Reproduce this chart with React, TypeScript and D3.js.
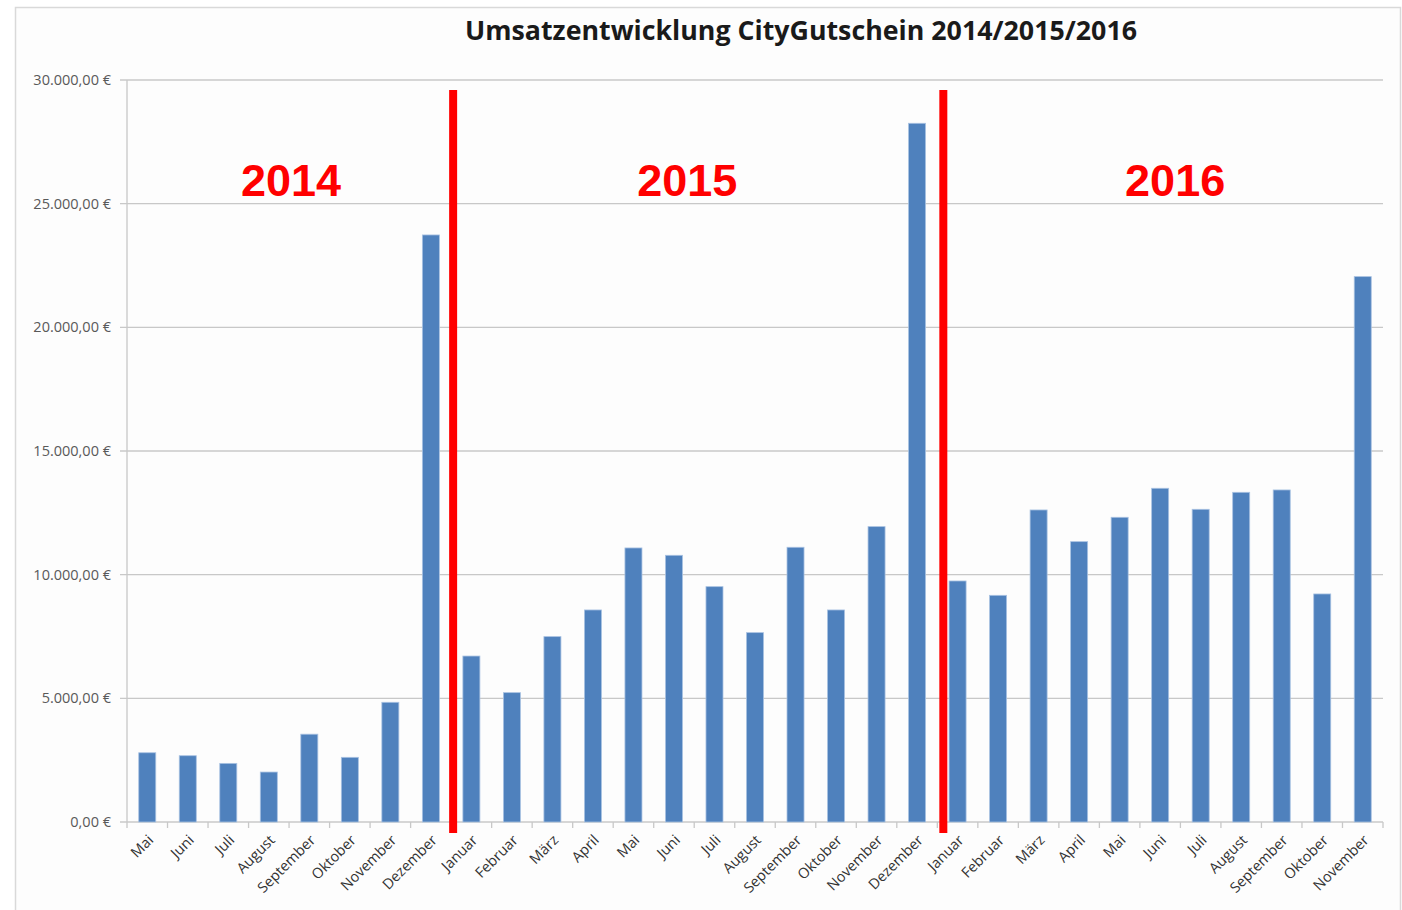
import * as d3 from "d3";

const months = [
  "Mai", "Juni", "Juli", "August", "September", "Oktober", "November", "Dezember",
  "Januar", "Februar", "März", "April", "Mai", "Juni", "Juli", "August", "September", "Oktober", "November", "Dezember",
  "Januar", "Februar", "März", "April", "Mai", "Juni", "Juli", "August", "September", "Oktober", "November",
];
const revenue = [
  2800, 2680, 2370, 2020, 3550, 2615, 4840, 23735,
  6710, 5230, 7495, 8573, 11080, 10783, 9515, 7656, 11108, 8573, 11942, 28250,
  9745, 9165, 12616, 11335, 12320, 13493, 12643, 13330, 13425, 9220, 22050,
];
const yTicks = [0, 5000, 10000, 15000, 20000, 25000, 30000];
const years = ["2014", "2015", "2016"];
const yearStart = [0, 8, 20];
const yearEnd = [8, 20, 31];
const dividers = [8, 20];

const W = 1402;
const H = 910;
const left = 127;
const right = 1383;
const top = 80;
const bottom = 822;

const fmt = (v: number) =>
  v.toLocaleString("de-DE", { minimumFractionDigits: 2, maximumFractionDigits: 2 }) + " €";

export default function App() {
  const keys = months.map((_, i) => String(i));
  const x = d3.scaleBand<string>().domain(keys).range([left, right]).paddingInner(0.58).paddingOuter(0.29);
  const step = x.step();
  const y = d3.scaleLinear().domain([0, 30000]).range([bottom, top]);
  const edge = (i: number) => left + i * step;
  const yearShift = [2, -7, 15];
  const divShift = [2, 6];

  return (
    <div style={{ position: "absolute", left: 0, top: 0 }}>
      <svg width={W} height={H} style={{ display: "block", background: "#fff" }}>
        <rect x={15.5} y={7.5} width={1385} height={920} fill="#fdfdfd" stroke="#d9d9d9" strokeWidth={1.5} />
        <text
          x={801}
          y={40}
          textAnchor="middle"
          fontFamily="'Open Sans', sans-serif"
          fontWeight={700}
          fontSize={26}
          textLength={672}
          lengthAdjust="spacingAndGlyphs"
          fill="#1a1a1a"
        >
          Umsatzentwicklung CityGutschein 2014/2015/2016
        </text>

        {yTicks.map((t) => (
          <g key={t}>
            <line x1={left - 7} x2={right} y1={y(t)} y2={y(t)} stroke="#c8c8c8" strokeWidth={1.3} />
            <text
              x={111}
              y={y(t) + 5}
              textAnchor="end"
              fontFamily="'Open Sans', sans-serif"
              fontSize={14.5}
              fill="#595959"
            >
              {fmt(t)}
            </text>
          </g>
        ))}
        <line x1={left} x2={left} y1={top} y2={bottom} stroke="#c8c8c8" strokeWidth={1.3} />
        {d3.range(months.length + 1).map((i) => (
          <line key={i} x1={edge(i)} x2={edge(i)} y1={bottom} y2={bottom + 6} stroke="#c8c8c8" strokeWidth={1.3} />
        ))}

        {revenue.map((v, i) => (
          <rect
            key={i}
            x={x(String(i))}
            y={y(v)}
            width={x.bandwidth()}
            height={y(0) - y(v)}
            fill="#4f81bd"
            stroke="#a9c2e2"
            strokeWidth={0.8}
          />
        ))}

        {months.map((m, i) => {
          const cx = (x(String(i)) ?? 0) + x.bandwidth() / 2 + 7;
          const cy = bottom + 19;
          return (
            <text
              key={i}
              transform={`translate(${cx},${cy}) rotate(-45)`}
              textAnchor="end"
              fontFamily="'Open Sans', sans-serif"
              fontSize={14.5}
              fill="#333333"
            >
              {m}
            </text>
          );
        })}

        {dividers.map((i, k) => (
          <line
            key={i}
            x1={edge(i) + divShift[k]}
            x2={edge(i) + divShift[k]}
            y1={90}
            y2={833}
            stroke="#ff0000"
            strokeWidth={8}
          />
        ))}

        {years.map((yr, k) => (
          <text
            key={yr}
            x={(edge(yearStart[k]) + edge(yearEnd[k])) / 2 + yearShift[k]}
            y={196}
            textAnchor="middle"
            fontFamily="'Liberation Sans', Arial, sans-serif"
            fontWeight={700}
            fontSize={45}
            fill="#ff0000"
          >
            {yr}
          </text>
        ))}
      </svg>
    </div>
  );
}
